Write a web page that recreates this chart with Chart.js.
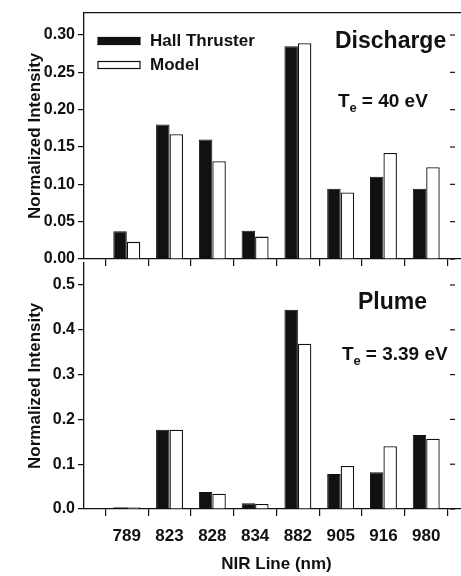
<!DOCTYPE html>
<html lang="en">
<head>
<meta charset="UTF-8">
<title>NIR Line Intensities</title>
<script src="https://cdn.jsdelivr.net/npm/chart.js"></script>
<style>
  body {
    margin: 0;
    width: 461px;
    height: 576px;
    overflow: hidden;
    position: relative;
    background: #fff;
  }
  canvas { position: absolute; left: 0; }
  #dischargeChart { top: 0; }
  #plumeChart { top: 250px; }
</style>
</head>
<body>
<canvas id="dischargeChart" width="472" height="275"></canvas>
<canvas id="plumeChart" width="472" height="326"></canvas>
<script>
// NIR lines (nm)
const lines = ['789', '823', '828', '834', '882', '905', '916', '980'];

// discharge region, Te = 40 eV
const dischargeHall  = [0.037, 0.180, 0.160, 0.038, 0.285, 0.094, 0.110, 0.094];
const dischargeModel = [0.023, 0.167, 0.131, 0.030, 0.289, 0.089, 0.142, 0.123];

// plume region, Te = 3.39 eV
const plumeHall  = [0.004, 0.177, 0.038, 0.013, 0.445, 0.078, 0.082, 0.165];
const plumeModel = [0.004, 0.177, 0.034, 0.011, 0.369, 0.096, 0.140, 0.157];

const dischargeTicks = [0, 0.05, 0.10, 0.15, 0.20, 0.25, 0.30];
const plumeTicks = [0, 0.1, 0.2, 0.3, 0.4, 0.5];

const INK = '#111';
const FONT = "'Liberation Sans', Arial, Helvetica, sans-serif";
Chart.defaults.font.family = FONT;
Chart.defaults.font.weight = 'bold';
Chart.defaults.color = INK;

// bars sit at 1..8 on a linear axis running 0..9
const points = values => values.map((v, i) => ({ x: i + 1, y: v }));

// panel name plus the electron temperature with a subscript "e"
const panelNotes = {
  id: 'panelNotes',
  afterDraw(chart, args, o) {
    const ctx = chart.ctx;
    ctx.save();
    ctx.fillStyle = INK;
    ctx.textBaseline = 'middle';
    ctx.textAlign = 'left';
    ctx.font = `bold ${o.titleSize}px ${FONT}`;
    ctx.fillText(o.title, o.titleX, o.titleY);

    ctx.font = `bold ${o.tempSize}px ${FONT}`;
    let x = o.tempX;
    ctx.fillText('T', x, o.tempY);
    x += ctx.measureText('T').width;
    ctx.font = `bold ${Math.round(o.tempSize * 0.68)}px ${FONT}`;
    ctx.fillText('e', x, o.tempY + 6);
    x += ctx.measureText('e').width + 5;
    ctx.font = `bold ${o.tempSize}px ${FONT}`;
    ctx.fillText('= ' + o.temp, x, o.tempY);
    ctx.restore();
  }
};

// legend with long flat swatches
const swatchLegend = {
  id: 'swatchLegend',
  afterDraw(chart, args, o) {
    if (!o.show) return;
    const ctx = chart.ctx;
    ctx.save();
    ctx.font = `bold 17px ${FONT}`;
    ctx.textBaseline = 'middle';
    chart.data.datasets.forEach((ds, i) => {
      const y = o.y + i * o.step;
      ctx.fillStyle = ds.backgroundColor;
      ctx.fillRect(o.x, y - 3.5, 42, 7);
      ctx.lineWidth = 1.2;
      ctx.strokeStyle = ds.borderColor;
      ctx.strokeRect(o.x, y - 3.5, 42, 7);
      ctx.fillStyle = INK;
      ctx.fillText(ds.label, o.x + 52, y);
    });
    ctx.restore();
  }
};

// short marks on the right side at each y tick
const rightTicks = {
  id: 'rightTicks',
  afterDraw(chart) {
    const { ctx, chartArea, scales } = chart;
    ctx.save();
    ctx.strokeStyle = INK;
    ctx.lineWidth = 1.2;
    scales.y.ticks.forEach(t => {
      const y = scales.y.getPixelForValue(t.value);
      ctx.beginPath();
      ctx.moveTo(chartArea.right - 19, y);
      ctx.lineTo(chartArea.right - 14, y);
      ctx.stroke();
    });
    ctx.restore();
  }
};

function makePanel(id, cfg) {
  const scales = {
    x: {
      type: 'linear',
      min: 0,
      max: 9,
      offset: false,
      afterBuildTicks: s => { s.ticks = lines.map((_, i) => ({ value: i + 1 })); },
      afterFit: s => { s.height = cfg.xHeight; },
      grid: { drawOnChartArea: false, tickLength: 7, color: INK, lineWidth: 1.2 },
      border: { color: INK, width: 1.3 },
      ticks: {
        display: cfg.showLabels,
        padding: 10,
        maxRotation: 0,
        color: INK,
        font: { size: 17, weight: 'bold' },
        callback: v => lines[v - 1]
      },
      title: {
        display: cfg.showLabels,
        text: 'NIR Line (nm)',
        color: INK,
        font: { size: 17, weight: 'bold' },
        padding: { top: 1, bottom: 1 }
      }
    },
    y: {
      min: 0,
      max: cfg.max,
      afterBuildTicks: s => { s.ticks = cfg.ticks.map(v => ({ value: v })); },
      afterFit: s => { s.width = 84; },
      grid: { drawOnChartArea: false, tickLength: 6, color: INK, lineWidth: 1.2 },
      border: { color: INK, width: 1.3 },
      ticks: {
        padding: 3,
        color: INK,
        font: { size: 16, weight: 'bold' },
        callback: v => v.toFixed(cfg.digits)
      },
      title: {
        display: true,
        text: 'Normalized Intensity',
        color: INK,
        font: { size: 17, weight: 'bold' },
        padding: { top: 25, bottom: 0 }
      }
    }
  };
  if (cfg.frameTop) {
    scales.xTop = {
      type: 'linear',
      position: 'top',
      ticks: { display: false },
      grid: { display: false, drawTicks: false },
      border: { color: INK, width: 1.3 },
      afterFit: s => { s.height = 0; }
    };
  }

  return new Chart(document.getElementById(id), {
    type: 'bar',
    data: {
      datasets: [{
        label: 'Hall Thruster',
        data: points(cfg.hall),
        xAxisID: 'x',
        backgroundColor: INK,
        borderColor: INK,
        borderWidth: 1,
        categoryPercentage: 0.63,
        barPercentage: 1
      }, {
        label: 'Model',
        data: points(cfg.model),
        xAxisID: 'x',
        backgroundColor: '#fff',
        borderColor: INK,
        borderWidth: 1.3,
        categoryPercentage: 0.63,
        barPercentage: 1
      }]
    },
    options: {
      responsive: false,
      animation: false,
      layout: { padding: { top: cfg.top, right: 3, left: 0, bottom: 0 } },
      plugins: {
        legend: { display: false },
        tooltip: { enabled: false },
        panelNotes: cfg.notes,
        swatchLegend: { show: cfg.legend, x: 98, y: 41, step: 24 }
      },
      scales
    },
    plugins: [panelNotes, swatchLegend, rightTicks]
  });
}

makePanel('dischargeChart', {
  hall: dischargeHall,
  model: dischargeModel,
  ticks: dischargeTicks,
  max: 0.33,
  digits: 2,
  top: 12,
  xHeight: 16,
  showLabels: false,
  frameTop: true,
  legend: true,
  notes: { title: 'Discharge', titleSize: 23, titleX: 335, titleY: 42,
           temp: '40 eV', tempSize: 19, tempX: 338, tempY: 102 }
});

makePanel('plumeChart', {
  hall: plumeHall,
  model: plumeModel,
  ticks: plumeTicks,
  max: 0.55,
  digits: 1,
  top: 9,
  xHeight: 67,
  showLabels: true,
  frameTop: false,
  legend: false,
  notes: { title: 'Plume', titleSize: 23, titleX: 358, titleY: 53,
           temp: '3.39 eV', tempSize: 19, tempX: 342, tempY: 105 }
});
</script>
</body>
</html>
